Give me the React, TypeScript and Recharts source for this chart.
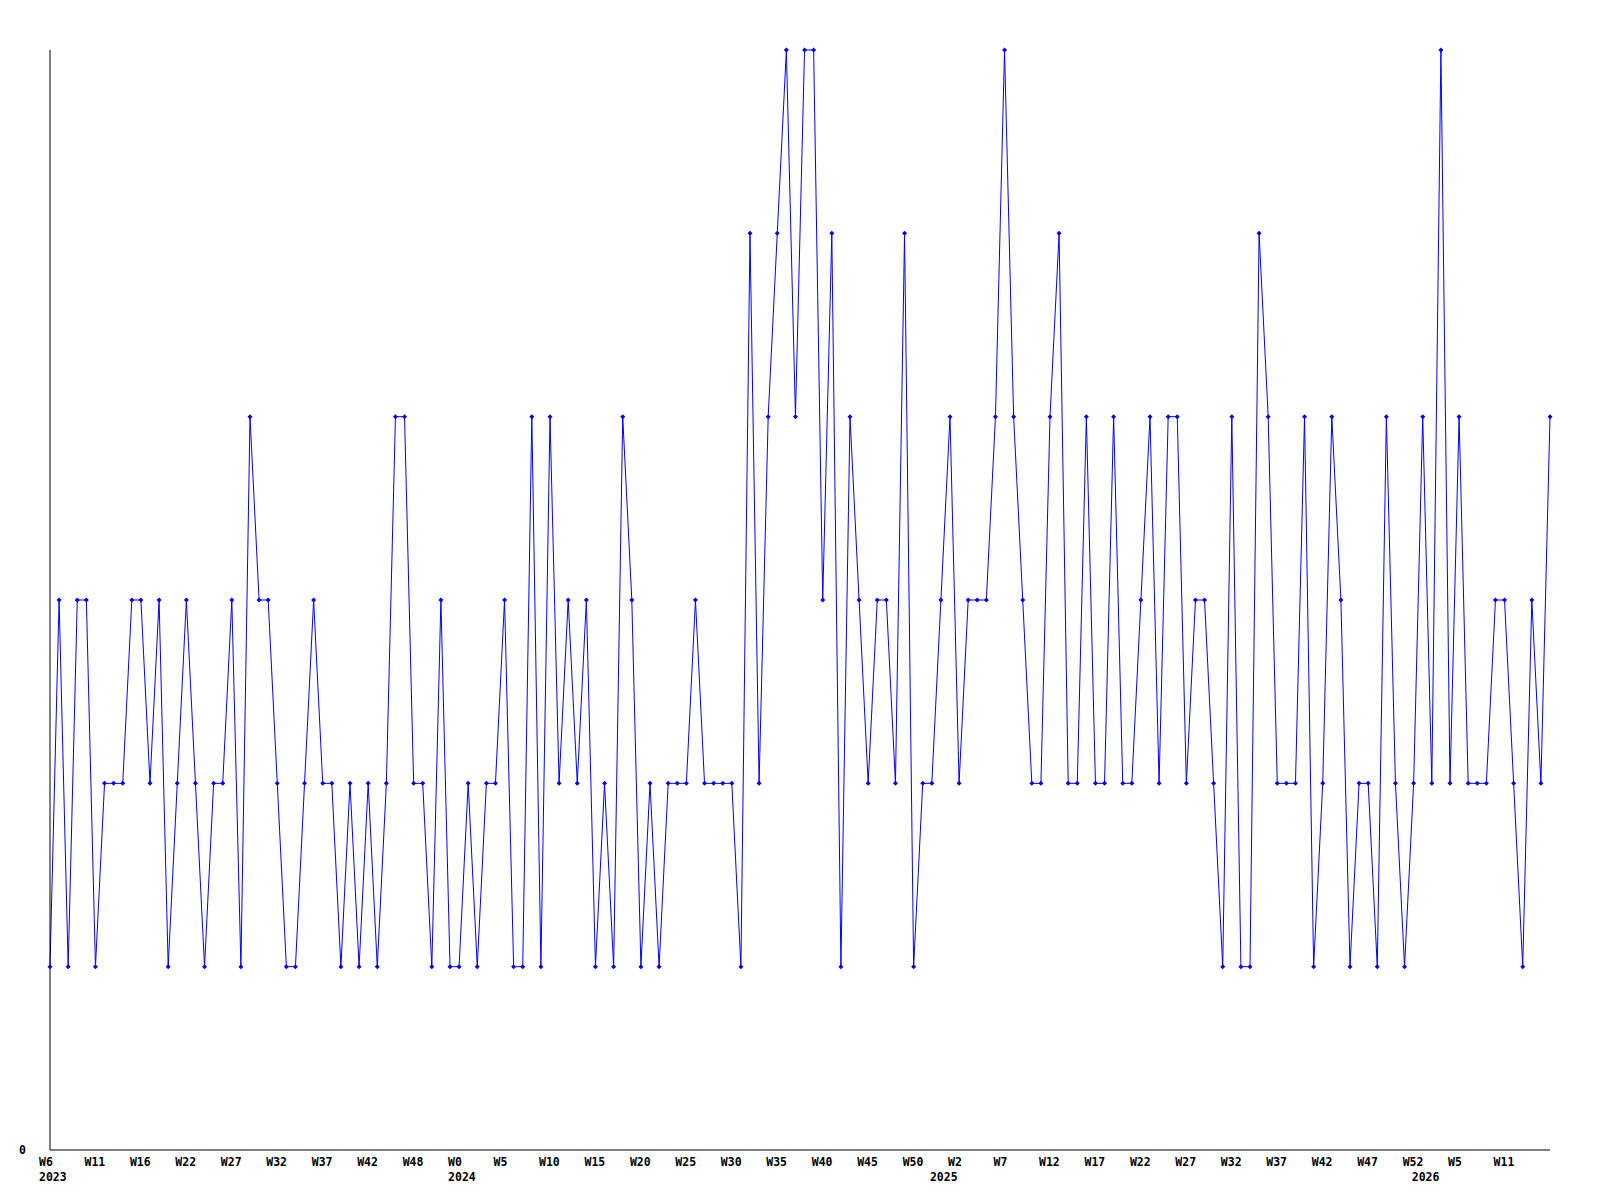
import { LineChart, Line, XAxis, YAxis } from 'recharts';

// weekly counts, first point is 2023 W6
const counts = [
  1, 3, 1, 3, 3, 1, 2, 2, 2, 3, 3, 2, 3, 1, 2, 3, 2, 1, 2, 2, 3,
  1, 4, 3, 3, 2, 1, 1, 2, 3, 2, 2, 1, 2, 1, 2, 1, 2, 4, 4, 2, 2,
  1, 3, 1, 1, 2, 1, 2, 2, 3, 1, 1, 4, 1, 4, 2, 3, 2, 3, 1, 2, 1,
  4, 3, 1, 2, 1, 2, 2, 2, 3, 2, 2, 2, 2, 1, 5, 2, 4, 5, 6, 4, 6,
  6, 3, 5, 1, 4, 3, 2, 3, 3, 2, 5, 1, 2, 2, 3, 4, 2, 3, 3, 3, 4,
  6, 4, 3, 2, 2, 4, 5, 2, 2, 4, 2, 2, 4, 2, 2, 3, 4, 2, 4, 4, 2,
  3, 3, 2, 1, 4, 1, 1, 5, 4, 2, 2, 2, 4, 1, 2, 4, 3, 1, 2, 2, 1,
  4, 2, 1, 2, 4, 2, 6, 2, 4, 2, 2, 2, 3, 3, 2, 1, 3, 2, 4,
];

// week labels shown every 5th point
const weekLabels = [
  'W6', 'W11', 'W16', 'W22', 'W27', 'W32', 'W37', 'W42', 'W48',
  'W0', 'W5', 'W10', 'W15', 'W20', 'W25', 'W30', 'W35', 'W40', 'W45', 'W50',
  'W2', 'W7', 'W12', 'W17', 'W22', 'W27', 'W32', 'W37', 'W42', 'W47', 'W52',
  'W5', 'W11',
];
const weekTickIdx = weekLabels.map((_, k) => k * 5);

// year labels, at the first point of each year
const years = ['2023', '2024', '2025', '2026'];
const yearIdx = [0, 45, 98, 151];

const data = counts.map((v, i) => ({ i, v }));
const ticks = Array.from(new Set([...weekTickIdx, ...yearIdx])).sort((a, b) => a - b);

const FONT = '"DejaVu Sans Mono", monospace';

const XTick = ({ x, y, payload }: any) => {
  const idx = payload.value;
  const w = weekTickIdx.indexOf(idx);
  const yr = yearIdx.indexOf(idx);
  return (
    <g>
      {w >= 0 && (
        <text x={x - 11} y={y + 16} fontFamily={FONT} fontSize={11.5} fontWeight="bold" fill="#000">
          {weekLabels[w]}
        </text>
      )}
      {yr >= 0 && (
        <text x={x - 11} y={y + 31} fontFamily={FONT} fontSize={11.5} fontWeight="bold" fill="#000">
          {years[yr]}
        </text>
      )}
    </g>
  );
};

const YTick = ({ y, payload }: any) => (
  <text x={19} y={y + 4} fontFamily={FONT} fontSize={11.5} fontWeight="bold" fill="#000">
    {payload.value}
  </text>
);

const Diamond = ({ cx, cy }: any) => {
  if (cx == null || cy == null) return null;
  return <path d={`M${cx - 2.5},${cy}L${cx},${cy - 2.5}L${cx + 2.5},${cy}L${cx},${cy + 2.5}Z`} fill="#0000ff" />;
};

export default function App() {
  return (
    <div style={{ position: 'absolute', left: 0, top: 0, width: 1600, height: 1200, background: '#fff' }}>
      <LineChart width={1600} height={1200} data={data} margin={{ top: 50, right: 50, left: 0, bottom: 0 }}>
        <XAxis
          dataKey="i"
          type="number"
          domain={[0, 165]}
          ticks={ticks}
          interval={0}
          height={50}
          tickSize={0}
          tickMargin={0}
          tickLine={false}
          axisLine={{ stroke: '#000', strokeWidth: 1 }}
          tick={<XTick />}
        />
        <YAxis
          domain={[0, 6]}
          ticks={[0]}
          width={50}
          tickSize={0}
          tickLine={false}
          axisLine={{ stroke: '#000', strokeWidth: 1 }}
          tick={<YTick />}
        />
        <Line
          dataKey="v"
          type="linear"
          stroke="#0000ff"
          strokeWidth={1}
          dot={<Diamond />}
          activeDot={false}
          isAnimationActive={false}
        />
      </LineChart>
    </div>
  );
}
